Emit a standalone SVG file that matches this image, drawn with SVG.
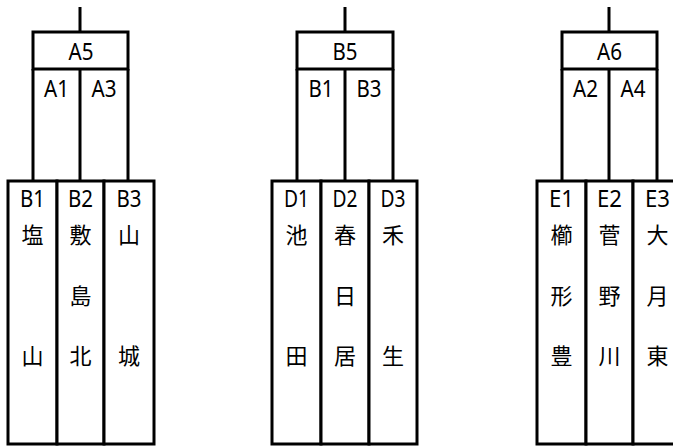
<svg xmlns="http://www.w3.org/2000/svg" width="673" height="446" viewBox="0 0 673 446">
<style>
.box{fill:#fff;stroke:#000;stroke-width:3}
.ln{stroke:#000;stroke-width:3;fill:none}
text{font-family:"Noto Sans CJK JP","Noto Sans",sans-serif;fill:#000;text-anchor:middle}
.lb{font-family:"Noto Sans","Noto Sans CJK JP",sans-serif;font-size:24px}
.cj{font-size:22px}
</style>
<rect width="673" height="446" fill="#fff"/>
<g id="connectors">
<path class="ln" d="M80,7V32M33,69V181M80,69V181M128,69V181"/>
<path class="ln" d="M345,7V32M297,69V181M345,69V181M393,69V181"/>
<path class="ln" d="M609,7V32M562,69V181M609,69V181M657,69V181"/>
</g>
<g id="A5">
<rect class="box" x="33" y="32" width="95" height="37"/>
<text class="lb" x="81" y="60" textLength="25" lengthAdjust="spacingAndGlyphs">A5</text>
<text class="lb" x="56.5" y="97" textLength="25" lengthAdjust="spacingAndGlyphs">A1</text>
<text class="lb" x="104" y="97" textLength="25" lengthAdjust="spacingAndGlyphs">A3</text>
</g>
<g id="B5">
<rect class="box" x="297" y="32" width="96" height="37"/>
<text class="lb" x="345" y="60" textLength="25" lengthAdjust="spacingAndGlyphs">B5</text>
<text class="lb" x="321" y="97" textLength="25" lengthAdjust="spacingAndGlyphs">B1</text>
<text class="lb" x="369" y="97" textLength="25" lengthAdjust="spacingAndGlyphs">B3</text>
</g>
<g id="A6">
<rect class="box" x="562" y="32" width="95" height="37"/>
<text class="lb" x="609.5" y="60" textLength="25" lengthAdjust="spacingAndGlyphs">A6</text>
<text class="lb" x="585.5" y="97" textLength="25" lengthAdjust="spacingAndGlyphs">A2</text>
<text class="lb" x="633" y="97" textLength="25" lengthAdjust="spacingAndGlyphs">A4</text>
</g>
<g id="B1">
<rect class="box" x="8" y="181" width="49" height="263"/>
<text class="lb" x="32.5" y="207" textLength="25" lengthAdjust="spacingAndGlyphs">B1</text>
<text class="cj" x="32.5" y="243">塩</text>
<text class="cj" x="32.5" y="364">山</text>
</g>
<g id="B2">
<rect class="box" x="57" y="181" width="47" height="263"/>
<text class="lb" x="80.5" y="207" textLength="25" lengthAdjust="spacingAndGlyphs">B2</text>
<text class="cj" x="80.5" y="243">敷</text>
<text class="cj" x="80.5" y="304">島</text>
<text class="cj" x="80.5" y="364">北</text>
</g>
<g id="B3">
<rect class="box" x="104" y="181" width="50" height="263"/>
<text class="lb" x="129" y="207" textLength="25" lengthAdjust="spacingAndGlyphs">B3</text>
<text class="cj" x="129" y="243">山</text>
<text class="cj" x="129" y="364">城</text>
</g>
<g id="D1">
<rect class="box" x="272" y="181" width="49" height="263"/>
<text class="lb" x="296.5" y="207" textLength="25" lengthAdjust="spacingAndGlyphs">D1</text>
<text class="cj" x="296.5" y="243">池</text>
<text class="cj" x="296.5" y="364">田</text>
</g>
<g id="D2">
<rect class="box" x="321" y="181" width="48" height="263"/>
<text class="lb" x="345" y="207" textLength="25" lengthAdjust="spacingAndGlyphs">D2</text>
<text class="cj" x="345" y="243">春</text>
<text class="cj" x="345" y="304">日</text>
<text class="cj" x="345" y="364">居</text>
</g>
<g id="D3">
<rect class="box" x="369" y="181" width="48" height="263"/>
<text class="lb" x="393" y="207" textLength="25" lengthAdjust="spacingAndGlyphs">D3</text>
<text class="cj" x="393" y="243">禾</text>
<text class="cj" x="393" y="364">生</text>
</g>
<g id="E1">
<rect class="box" x="537" y="181" width="49" height="263"/>
<text class="lb" x="561.5" y="207" textLength="25" lengthAdjust="spacingAndGlyphs">E1</text>
<text class="cj" x="561.5" y="243">櫛</text>
<text class="cj" x="561.5" y="304">形</text>
<text class="cj" x="561.5" y="364">豊</text>
</g>
<g id="E2">
<rect class="box" x="586" y="181" width="47" height="263"/>
<text class="lb" x="609.5" y="207" textLength="25" lengthAdjust="spacingAndGlyphs">E2</text>
<text class="cj" x="609.5" y="243">菅</text>
<text class="cj" x="609.5" y="304">野</text>
<text class="cj" x="609.5" y="364">川</text>
</g>
<g id="E3">
<rect class="box" x="633" y="181" width="49" height="263"/>
<text class="lb" x="657.5" y="207" textLength="25" lengthAdjust="spacingAndGlyphs">E3</text>
<text class="cj" x="657.5" y="243">大</text>
<text class="cj" x="657.5" y="304">月</text>
<text class="cj" x="657.5" y="364">東</text>
</g>
</svg>
